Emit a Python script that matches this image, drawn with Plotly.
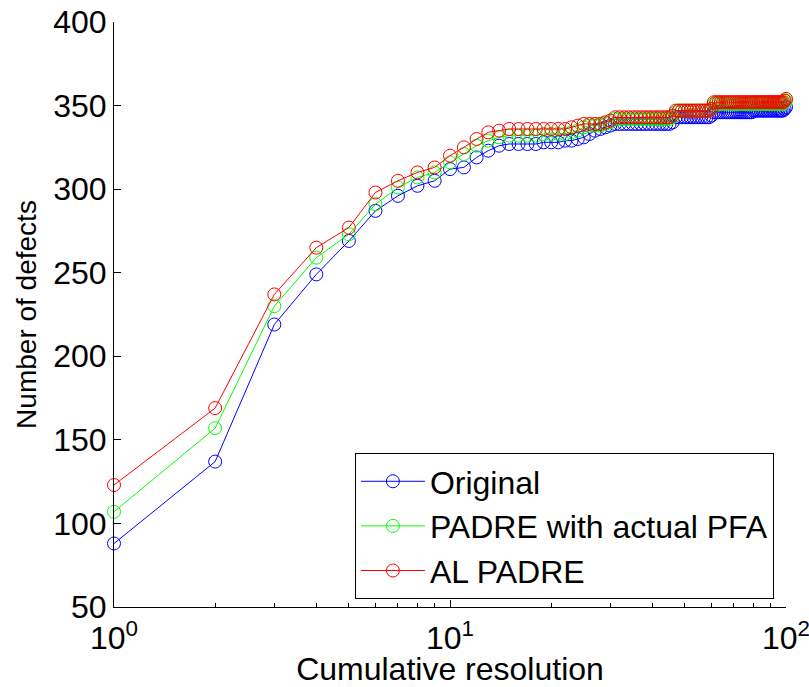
import plotly.graph_objects as go

x_vals = list(range(1, 101))

original = [
    88, 137, 219, 249, 269, 287, 296, 302, 305, 312,
    313, 319, 323, 326, 327, 327, 327, 327, 328, 328,
    328, 329, 329, 330, 331, 333, 335, 336, 337, 338,
    339, 339, 339, 339, 339, 339, 339, 339, 339, 339,
    339, 339, 339, 339, 339, 340, 343, 343, 343, 343,
    343, 343, 343, 343, 343, 343, 343, 343, 343, 344,
    346, 346, 346, 346, 346, 346, 346, 346, 346, 346,
    346, 346, 346, 346, 346, 346, 346, 346, 346, 347,
    347, 347, 347, 347, 347, 347, 347, 347, 347, 347,
    347, 347, 347, 347, 347, 347, 347, 347, 348, 349,
]

padre_pfa = [
    107, 157, 230, 259, 273, 291, 301, 307, 310, 316,
    321, 326, 329, 331, 332, 332, 332, 332, 333, 333,
    333, 333, 334, 335, 337, 338, 338, 338, 339, 340,
    342, 342, 342, 342, 342, 342, 342, 342, 342, 342,
    342, 342, 342, 342, 342, 343, 346, 347, 347, 347,
    347, 347, 347, 347, 347, 347, 347, 347, 347, 348,
    351, 351, 351, 351, 351, 351, 351, 351, 351, 351,
    351, 351, 351, 351, 351, 351, 351, 351, 351, 351,
    351, 351, 351, 351, 351, 351, 351, 351, 351, 351,
    351, 351, 351, 351, 351, 351, 351, 351, 352, 353,
]

al_padre = [
    123, 169, 237, 265, 277, 298, 305, 310, 313, 320,
    325, 330, 334, 335, 336, 336, 336, 336, 336, 336,
    336, 336, 337, 338, 339, 339, 339, 339, 340, 341,
    343, 343, 343, 343, 343, 343, 343, 343, 343, 343,
    343, 343, 343, 343, 343, 344, 347, 347, 347, 347,
    347, 347, 347, 347, 347, 347, 347, 347, 347, 348,
    352, 352, 352, 352, 352, 352, 352, 352, 352, 352,
    352, 352, 352, 352, 352, 352, 352, 352, 352, 352,
    352, 352, 352, 352, 352, 352, 352, 352, 352, 352,
    352, 352, 352, 352, 352, 352, 352, 352, 353, 354,
]

series_names = ["Original", "PADRE with actual PFA", "AL PADRE"]
series_colors = ["#0000ff", "#00ff00", "#ff0000"]

major_ticks = [1, 10, 100]
major_labels = ["10<sup>0</sup>", "10<sup>1</sup>", "10<sup>2</sup>"]
minor_ticks = [2, 3, 4, 5, 6, 7, 8, 9, 20, 30, 40, 50, 60, 70, 80, 90]
y_ticks = [50, 100, 150, 200, 250, 300, 350, 400]

FONT = "Liberation Sans, Arial, Helvetica, sans-serif"
BIG = 32

fig = go.Figure()
for name, color, vals in zip(series_names, series_colors, [original, padre_pfa, al_padre]):
    fig.add_trace(go.Scatter(
        x=x_vals, y=vals, name=name, mode="lines+markers",
        line=dict(color=color, width=1),
        marker=dict(symbol="circle-open", size=13, color=color, line=dict(width=1, color=color)),
        cliponaxis=False,
    ))

fig.update_layout(
    width=809, height=687,
    margin=dict(l=114, r=23, t=22, b=80, autoexpand=False),
    paper_bgcolor="white", plot_bgcolor="white",
    font=dict(family=FONT, size=BIG, color="black"),
    showlegend=True,
    legend=dict(
        x=0.982, y=0.0137, xanchor="right", yanchor="bottom",
        bordercolor="black", borderwidth=1, bgcolor="white",
        font=dict(family=FONT, size=BIG, color="black"),
        itemwidth=64, tracegroupgap=0,
    ),
)

fig.update_xaxes(
    type="log", range=[0, 2], automargin=False,
    tickmode="array", tickvals=major_ticks, ticktext=major_labels,
    ticklabeloverflow="allow",
    ticks="inside", ticklen=7, tickcolor="black", tickwidth=1,
    minor=dict(tickmode="array", tickvals=minor_ticks, ticks="inside", ticklen=4,
               tickcolor="black", showgrid=False),
    showline=True, linecolor="black", linewidth=1, mirror=False,
    showgrid=False, zeroline=False,
    tickfont=dict(family=FONT, size=BIG, color="black"),
    ticklabelstandoff=3,
    title=dict(text="Cumulative resolution", font=dict(family=FONT, size=BIG, color="black"), standoff=0),
)

fig.update_yaxes(
    range=[50, 400], automargin=False,
    tickmode="array", tickvals=y_ticks,
    ticks="inside", ticklen=7, tickcolor="black", tickwidth=1,
    showline=True, linecolor="black", linewidth=1, mirror=False,
    showgrid=False, zeroline=False,
    tickfont=dict(family=FONT, size=BIG, color="black"),
    title=dict(text="Number of defects", font=dict(family=FONT, size=28, color="black"), standoff=8),
)

fig.write_html("out.html")
